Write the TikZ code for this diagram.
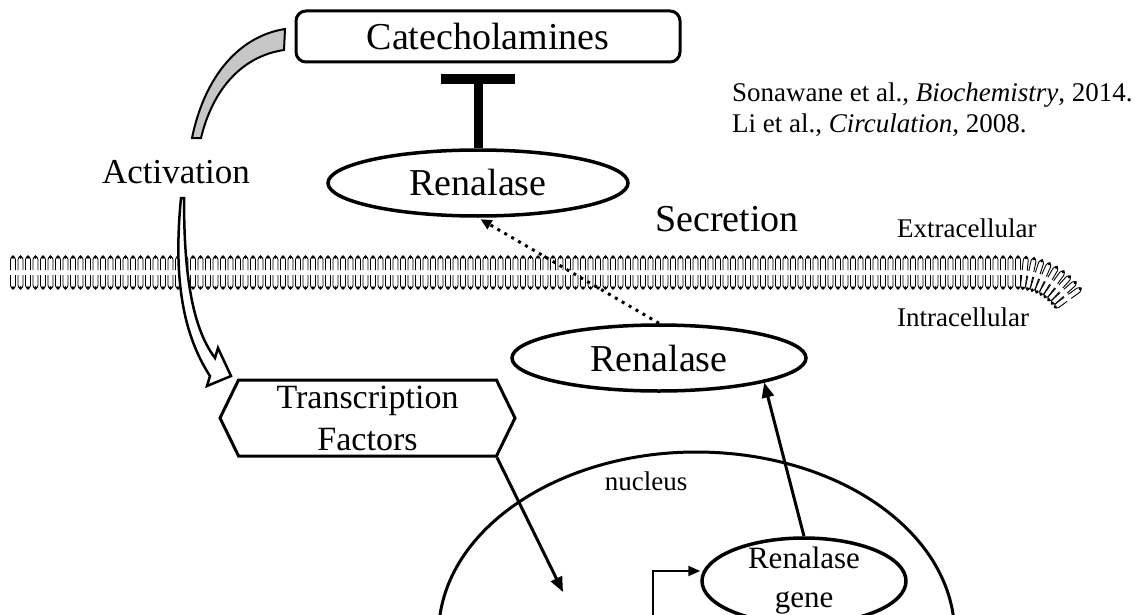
\documentclass[tikz,border=0pt]{standalone}
\usepackage{fontspec}
\setmainfont{Liberation Serif}
\usetikzlibrary{arrows.meta,shapes.geometric,shapes.symbols}

% one lipid pair of the bilayer, at x = #1
\newcommand\lipid[1]{%
  \draw[lipidtail] (#1-2.5,270) -- (#1-2.5,259.5) arc[start angle=180,end angle=360,radius=2.5] -- (#1+2.5,270);
  \draw[lipidtail] (#1-2.5,275) -- (#1-2.5,285.5) arc[start angle=180,end angle=0,radius=2.5] -- (#1+2.5,275);
  \fill (#1,257) circle[radius=1.9];
  \fill (#1,288) circle[radius=1.9];
}

\begin{document}
\begin{tikzpicture}[x=1pt,y=-1pt,
  every node/.style={inner sep=0pt},
  bigtext/.style={font=\fontsize{38}{42}\selectfont},
  midtext/.style={font=\fontsize{27}{30}\selectfont},
  oval/.style={ellipse, draw, line width=3.5pt, bigtext},
  lipidtail/.style={line width=0.9pt},
  pointer/.style={line width=3pt, -{Triangle[length=15pt,width=12pt]}},
]
  \useasboundingbox (0,0) rectangle (1137,615);

  % membrane
  \foreach \i [evaluate=\i as \x using 13+7.5*\i] in {0,...,134} {\lipid{\x}}
  \foreach \a in {6,12,...,54} {
    \begin{scope}[rotate around={-\a:(1018,334)}]
      \lipid{1018}
    \end{scope}
  }

  % nucleus
  \draw[line width=3pt] (440,615) arc[start angle=186, end angle=354, x radius=258, y radius=182];

  \node[draw, rounded corners=10pt, line width=3pt, minimum width=384pt, minimum height=51pt, bigtext] (cat) at (488,36.5) {Catecholamines};
  \node[oval, minimum width=300pt, minimum height=66pt] (renout) at (478,183) {Renalase};
  \node[oval, minimum width=294pt, minimum height=66pt] (renin) at (659,358) {Renalase};
  \node[ellipse, draw, line width=3.5pt, minimum width=204pt, minimum height=86pt, inner ysep=-8pt, align=center, font=\fontsize{31}{39}\selectfont] (gene) at (804,581) {Renalase\\gene};
  \node[signal, signal to=east and west, signal pointer angle=128, draw, line width=3pt, minimum width=295pt, minimum height=76pt, align=center, font=\fontsize{34}{42}\selectfont] (tf) at (367.5,418) {Transcription\\Factors};

  \node[bigtext, anchor=base] (secr) at (727,231) {Secretion};
  \node[font=\fontsize{35}{40}\selectfont, anchor=base] (act) at (176,183) {Activation};
  \node[midtext, anchor=base west] (extra) at (897,237) {Extracellular};
  \node[midtext, anchor=base west] (intra) at (897,326) {Intracellular};
  \node[midtext, anchor=base] (nuc) at (646,490) {nucleus};
  \node[midtext, anchor=base west] (cite1) at (732,102) {Sonawane et al., \textit{Biochemistry}, 2014.};
  \node[midtext, anchor=base west] (cite2) at (732,132) {Li et al., \textit{Circulation}, 2008.};

  \coordinate (tfend) at (563,592);
  \coordinate (genein) at (653,615);

  % inhibition and transport
  \draw[line width=9pt, -{Bar[width=74pt,line width=10pt]}, shorten >=11pt] (renout.north) -- (renout.north |- cat.south);
  \draw[line width=3pt, dash pattern=on 3pt off 5pt, -{Triangle[length=11pt,width=10pt]}, shorten >=3pt] (renin.north) -- (renout.south);
  \draw[pointer] (gene.north) -- (renin.south east);
  \draw[pointer] ([xshift=129.5pt]tf.south) -- (tfend);
  \draw[line width=2pt, -{Triangle[length=12pt,width=10pt]}] (genein) |- ([yshift=10pt]gene.west);

  % activation arrow
  \filldraw[fill=gray!45, line width=2pt] (285,29) .. controls (240,36) and (205,75) .. (192,138) -- (201,138) .. controls (213,88) and (243,56) .. (284,50) -- cycle;
  \filldraw[fill=white, line width=2.5pt] (181,198) .. controls (174,270) and (180,330) .. (210,376) -- (207,386) -- (231,376) -- (218,348) -- (215,358) .. controls (190,325) and (184,265) .. (184,198) -- cycle;
\end{tikzpicture}
\end{document}
